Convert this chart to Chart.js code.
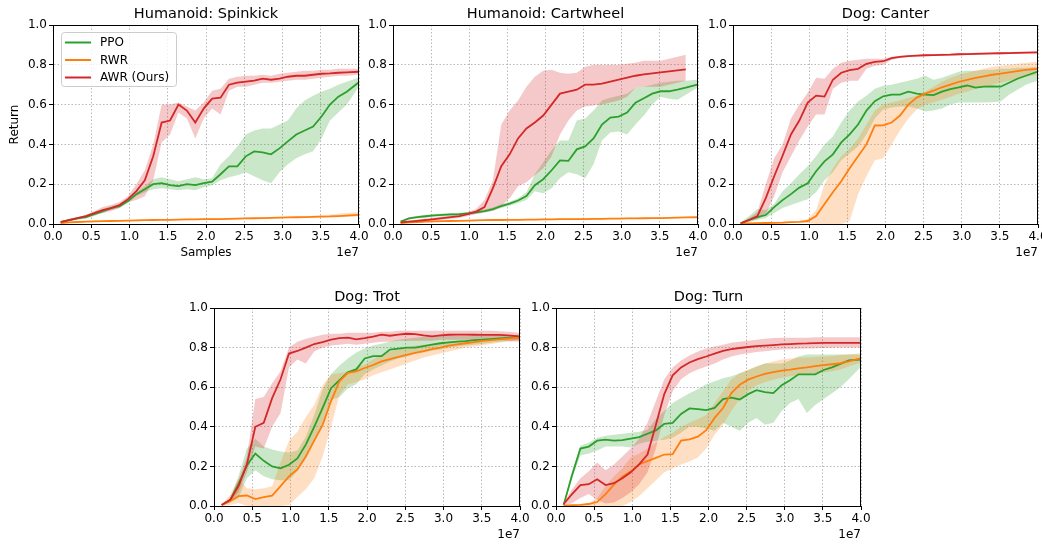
<!DOCTYPE html>
<html>
<head>
<meta charset="utf-8">
<script src="https://cdn.jsdelivr.net/npm/chart.js@4.4.1/dist/chart.umd.min.js"></script>
<style>
  html, body { margin: 0; padding: 0; background: #fff; }
  body { width: 1042px; height: 544px; position: relative; overflow: hidden; }
  canvas { position: absolute; }
</style>
</head>
<body>
<script>
// x positions of the evaluation points, in units of 1e7 samples
const samples = [0.10, 0.21, 0.32, 0.43, 0.54, 0.65, 0.76, 0.87, 0.98, 1.09, 1.20, 1.31, 1.42, 1.53, 1.64, 1.75, 1.86, 1.97,
  2.08, 2.19, 2.30, 2.41, 2.52, 2.63, 2.74, 2.85, 2.96, 3.07, 3.18, 3.29, 3.40, 3.51, 3.62, 3.73, 3.84, 3.99];
const xTickStep = 0.5;
const yTickStep = 0.2;
const methodNames = ["PPO", "RWR", "AWR (Ours)"];

// Humanoid: Spinkick
const spinkickAwr = [0.01, 0.02, 0.03, 0.04, 0.055, 0.07, 0.08, 0.095, 0.125, 0.165, 0.22, 0.34, 0.51, 0.52, 0.60, 0.57, 0.51, 0.58, 0.63, 0.635, 0.70, 0.71, 0.715, 0.72, 0.73, 0.725, 0.73, 0.74, 0.745, 0.745, 0.75, 0.755, 0.757, 0.76, 0.762, 0.765];
const spinkickAwrHi = [0.015, 0.025, 0.035, 0.045, 0.065, 0.085, 0.095, 0.11, 0.14, 0.2, 0.27, 0.4, 0.6, 0.6, 0.61, 0.59, 0.57, 0.61, 0.67, 0.68, 0.73, 0.74, 0.745, 0.745, 0.75, 0.745, 0.755, 0.76, 0.765, 0.77, 0.77, 0.775, 0.775, 0.78, 0.78, 0.78];
const spinkickAwrLo = [0.005, 0.015, 0.025, 0.035, 0.045, 0.055, 0.065, 0.08, 0.11, 0.12, 0.14, 0.22, 0.41, 0.45, 0.56, 0.53, 0.43, 0.53, 0.58, 0.55, 0.67, 0.69, 0.69, 0.70, 0.71, 0.71, 0.715, 0.72, 0.725, 0.725, 0.73, 0.735, 0.74, 0.745, 0.745, 0.75];
const spinkickPpo = [0.01, 0.02, 0.028, 0.035, 0.05, 0.065, 0.08, 0.09, 0.115, 0.15, 0.175, 0.2, 0.205, 0.195, 0.19, 0.2, 0.195, 0.205, 0.213, 0.25, 0.29, 0.29, 0.34, 0.365, 0.36, 0.35, 0.38, 0.415, 0.45, 0.47, 0.49, 0.54, 0.6, 0.64, 0.665, 0.71];
const spinkickPpoHi = [0.015, 0.027, 0.035, 0.043, 0.06, 0.075, 0.09, 0.1, 0.125, 0.16, 0.19, 0.225, 0.235, 0.225, 0.215, 0.225, 0.235, 0.225, 0.23, 0.30, 0.34, 0.39, 0.45, 0.47, 0.48, 0.48, 0.50, 0.52, 0.58, 0.62, 0.645, 0.665, 0.68, 0.70, 0.715, 0.735];
const spinkickPpoLo = [0.005, 0.013, 0.021, 0.027, 0.04, 0.055, 0.07, 0.08, 0.105, 0.14, 0.16, 0.175, 0.18, 0.175, 0.17, 0.175, 0.17, 0.185, 0.195, 0.22, 0.235, 0.245, 0.26, 0.24, 0.22, 0.205, 0.26, 0.3, 0.33, 0.35, 0.365, 0.43, 0.52, 0.56, 0.6, 0.685];
const spinkickRwr = [0.005, 0.008, 0.01, 0.012, 0.013, 0.014, 0.015, 0.016, 0.017, 0.018, 0.019, 0.02, 0.021, 0.021, 0.022, 0.023, 0.023, 0.024, 0.025, 0.025, 0.026, 0.027, 0.028, 0.029, 0.03, 0.031, 0.032, 0.033, 0.034, 0.035, 0.036, 0.037, 0.038, 0.04, 0.042, 0.046];
const spinkickRwrHi = [0.008, 0.011, 0.013, 0.015, 0.016, 0.017, 0.018, 0.019, 0.02, 0.021, 0.022, 0.023, 0.024, 0.024, 0.025, 0.026, 0.026, 0.027, 0.028, 0.028, 0.029, 0.03, 0.031, 0.032, 0.033, 0.034, 0.035, 0.036, 0.037, 0.039, 0.041, 0.044, 0.047, 0.051, 0.055, 0.06];
const spinkickRwrLo = [0.002, 0.005, 0.007, 0.009, 0.01, 0.011, 0.012, 0.013, 0.014, 0.015, 0.016, 0.017, 0.018, 0.018, 0.019, 0.02, 0.02, 0.021, 0.022, 0.022, 0.023, 0.024, 0.025, 0.026, 0.027, 0.028, 0.029, 0.03, 0.031, 0.032, 0.033, 0.034, 0.034, 0.035, 0.036, 0.038];

// Humanoid: Cartwheel
const cartwheelAwr = [0.008, 0.012, 0.016, 0.02, 0.025, 0.03, 0.035, 0.04, 0.05, 0.062, 0.085, 0.18, 0.29, 0.35, 0.43, 0.48, 0.51, 0.545, 0.60, 0.655, 0.665, 0.675, 0.70, 0.70, 0.705, 0.715, 0.725, 0.735, 0.745, 0.752, 0.757, 0.762, 0.767, 0.772, 0.777, null];
const cartwheelAwrHi = [0.012, 0.018, 0.023, 0.028, 0.033, 0.038, 0.043, 0.05, 0.06, 0.075, 0.12, 0.22, 0.50, 0.57, 0.62, 0.69, 0.74, 0.77, 0.775, 0.76, 0.755, 0.76, 0.79, 0.80, 0.80, 0.80, 0.80, 0.805, 0.81, 0.82, 0.82, 0.82, 0.83, 0.84, 0.85, null];
const cartwheelAwrLo = [0.004, 0.006, 0.009, 0.012, 0.017, 0.022, 0.027, 0.03, 0.04, 0.05, 0.06, 0.065, 0.09, 0.13, 0.19, 0.21, 0.245, 0.28, 0.34, 0.45, 0.52, 0.57, 0.59, 0.595, 0.60, 0.61, 0.62, 0.64, 0.685, 0.69, 0.69, 0.69, 0.70, 0.71, 0.72, null];
const cartwheelPpo = [0.012, 0.028, 0.035, 0.039, 0.043, 0.046, 0.048, 0.05, 0.053, 0.058, 0.065, 0.075, 0.09, 0.102, 0.118, 0.14, 0.195, 0.225, 0.27, 0.32, 0.317, 0.375, 0.39, 0.43, 0.5, 0.535, 0.54, 0.56, 0.61, 0.632, 0.655, 0.667, 0.667, 0.675, 0.685, 0.70];
const cartwheelPpoHi = [0.016, 0.034, 0.042, 0.046, 0.05, 0.053, 0.055, 0.057, 0.06, 0.066, 0.073, 0.083, 0.1, 0.112, 0.13, 0.16, 0.25, 0.31, 0.37, 0.42, 0.42, 0.52, 0.53, 0.57, 0.62, 0.635, 0.645, 0.655, 0.685, 0.69, 0.70, 0.71, 0.715, 0.72, 0.72, 0.725];
const cartwheelPpoLo = [0.008, 0.022, 0.028, 0.032, 0.036, 0.039, 0.041, 0.043, 0.046, 0.05, 0.057, 0.067, 0.08, 0.092, 0.106, 0.12, 0.165, 0.155, 0.18, 0.23, 0.26, 0.25, 0.23, 0.30, 0.42, 0.46, 0.465, 0.45, 0.50, 0.545, 0.60, 0.64, 0.63, 0.625, 0.65, 0.685];
const cartwheelRwr = [0.005, 0.008, 0.01, 0.012, 0.013, 0.014, 0.015, 0.016, 0.017, 0.018, 0.019, 0.02, 0.02, 0.021, 0.021, 0.022, 0.022, 0.023, 0.023, 0.024, 0.024, 0.025, 0.025, 0.026, 0.026, 0.027, 0.027, 0.028, 0.028, 0.029, 0.03, 0.03, 0.031, 0.032, 0.033, 0.034];
const cartwheelRwrHi = [0.008, 0.011, 0.013, 0.015, 0.016, 0.017, 0.018, 0.019, 0.02, 0.021, 0.022, 0.023, 0.023, 0.024, 0.024, 0.025, 0.025, 0.026, 0.026, 0.027, 0.027, 0.028, 0.028, 0.029, 0.029, 0.03, 0.03, 0.031, 0.031, 0.032, 0.033, 0.033, 0.034, 0.035, 0.036, 0.037];
const cartwheelRwrLo = [0.002, 0.005, 0.007, 0.009, 0.01, 0.011, 0.012, 0.013, 0.014, 0.015, 0.016, 0.017, 0.017, 0.018, 0.018, 0.019, 0.019, 0.02, 0.02, 0.021, 0.021, 0.022, 0.022, 0.023, 0.023, 0.024, 0.024, 0.025, 0.025, 0.026, 0.027, 0.027, 0.028, 0.029, 0.03, 0.031];

// Dog: Canter
const canterAwr = [0.003, 0.02, 0.04, 0.13, 0.24, 0.343, 0.45, 0.52, 0.61, 0.645, 0.64, 0.725, 0.76, 0.773, 0.78, 0.805, 0.815, 0.818, 0.834, 0.84, 0.844, 0.846, 0.848, 0.849, 0.85, 0.851, 0.853, 0.854, 0.855, 0.856, 0.857, 0.858, 0.859, 0.86, 0.861, 0.862];
const canterAwrHi = [0.005, 0.03, 0.06, 0.2, 0.33, 0.40, 0.53, 0.60, 0.66, 0.735, 0.73, 0.78, 0.81, 0.82, 0.825, 0.83, 0.83, 0.83, 0.84, 0.845, 0.849, 0.851, 0.853, 0.854, 0.855, 0.856, 0.858, 0.859, 0.86, 0.861, 0.862, 0.863, 0.864, 0.865, 0.866, 0.867];
const canterAwrLo = [0.0, 0.012, 0.025, 0.05, 0.14, 0.26, 0.34, 0.42, 0.49, 0.55, 0.55, 0.68, 0.71, 0.72, 0.72, 0.78, 0.795, 0.80, 0.825, 0.835, 0.839, 0.841, 0.843, 0.844, 0.845, 0.846, 0.848, 0.849, 0.85, 0.851, 0.852, 0.853, 0.854, 0.855, 0.856, 0.857];
const canterPpo = [0.003, 0.02, 0.035, 0.045, 0.085, 0.12, 0.15, 0.183, 0.205, 0.265, 0.315, 0.35, 0.41, 0.45, 0.5, 0.57, 0.617, 0.642, 0.65, 0.65, 0.665, 0.655, 0.65, 0.648, 0.665, 0.678, 0.687, 0.696, 0.685, 0.69, 0.692, 0.69, 0.71, 0.73, 0.745, 0.765];
const canterPpoHi = [0.008, 0.04, 0.075, 0.07, 0.10, 0.165, 0.205, 0.25, 0.29, 0.34, 0.40, 0.44, 0.51, 0.57, 0.615, 0.645, 0.68, 0.695, 0.70, 0.71, 0.72, 0.73, 0.745, 0.725, 0.735, 0.75, 0.765, 0.77, 0.77, 0.775, 0.775, 0.78, 0.78, 0.785, 0.785, 0.79];
const canterPpoLo = [0.0, 0.01, 0.02, 0.03, 0.055, 0.08, 0.095, 0.11, 0.125, 0.16, 0.22, 0.26, 0.32, 0.355, 0.39, 0.45, 0.53, 0.575, 0.585, 0.59, 0.59, 0.58, 0.565, 0.57, 0.58, 0.60, 0.61, 0.61, 0.61, 0.61, 0.612, 0.615, 0.65, 0.675, 0.70, 0.72];
const canterRwr = [0.002, 0.003, 0.004, 0.005, 0.006, 0.007, 0.009, 0.011, 0.015, 0.04, 0.1, 0.16, 0.215, 0.28, 0.34, 0.40, 0.495, 0.496, 0.51, 0.545, 0.60, 0.635, 0.655, 0.67, 0.687, 0.70, 0.714, 0.724, 0.734, 0.742, 0.75, 0.756, 0.762, 0.768, 0.774, 0.78];
const canterRwrHi = [0.006, 0.007, 0.008, 0.009, 0.01, 0.011, 0.013, 0.015, 0.025, 0.07, 0.2, 0.28, 0.34, 0.38, 0.43, 0.50, 0.57, 0.60, 0.61, 0.62, 0.635, 0.645, 0.665, 0.69, 0.715, 0.735, 0.75, 0.76, 0.77, 0.78, 0.79, 0.795, 0.80, 0.805, 0.81, 0.815];
const canterRwrLo = [0.0, 0.0, 0.0, 0.001, 0.002, 0.003, 0.005, 0.007, 0.005, 0.0, 0.0, 0.0, 0.0, 0.015, 0.15, 0.24, 0.32, 0.33, 0.40, 0.47, 0.53, 0.575, 0.60, 0.61, 0.625, 0.64, 0.655, 0.665, 0.68, 0.69, 0.70, 0.71, 0.72, 0.73, 0.74, 0.75];

// Dog: Trot
const trotAwr = [0.005, 0.03, 0.10, 0.21, 0.40, 0.42, 0.545, 0.64, 0.77, 0.783, 0.80, 0.818, 0.828, 0.84, 0.848, 0.85, 0.842, 0.848, 0.855, 0.865, 0.86, 0.865, 0.87, 0.868, 0.862, 0.857, 0.862, 0.865, 0.866, 0.866, 0.865, 0.864, 0.864, 0.864, 0.862, 0.857];
const trotAwrHi = [0.008, 0.04, 0.13, 0.25, 0.54, 0.55, 0.62, 0.68, 0.80, 0.83, 0.845, 0.855, 0.865, 0.87, 0.87, 0.875, 0.875, 0.875, 0.875, 0.88, 0.88, 0.885, 0.885, 0.885, 0.885, 0.885, 0.885, 0.885, 0.885, 0.885, 0.885, 0.885, 0.885, 0.882, 0.88, 0.875];
const trotAwrLo = [0.002, 0.02, 0.07, 0.17, 0.30, 0.29, 0.40, 0.47, 0.70, 0.74, 0.72, 0.78, 0.80, 0.81, 0.815, 0.82, 0.815, 0.82, 0.825, 0.83, 0.83, 0.835, 0.835, 0.835, 0.835, 0.835, 0.84, 0.84, 0.84, 0.84, 0.84, 0.84, 0.84, 0.838, 0.835, 0.83];
const trotPpo = [0.005, 0.03, 0.11, 0.205, 0.265, 0.228, 0.20, 0.19, 0.208, 0.24, 0.31, 0.40, 0.495, 0.595, 0.635, 0.675, 0.69, 0.745, 0.757, 0.757, 0.79, 0.795, 0.80, 0.80, 0.808, 0.815, 0.822, 0.826, 0.83, 0.833, 0.838, 0.84, 0.843, 0.846, 0.849, 0.852];
const trotPpoHi = [0.008, 0.035, 0.15, 0.29, 0.34, 0.30, 0.285, 0.275, 0.27, 0.28, 0.35, 0.46, 0.59, 0.665, 0.71, 0.745, 0.775, 0.795, 0.81, 0.82, 0.83, 0.84, 0.845, 0.85, 0.855, 0.857, 0.858, 0.86, 0.86, 0.86, 0.86, 0.86, 0.862, 0.862, 0.863, 0.865];
const trotPpoLo = [0.002, 0.015, 0.04, 0.14, 0.18, 0.15, 0.135, 0.13, 0.13, 0.175, 0.24, 0.33, 0.42, 0.535, 0.55, 0.595, 0.615, 0.665, 0.69, 0.71, 0.73, 0.745, 0.755, 0.77, 0.775, 0.785, 0.79, 0.80, 0.805, 0.81, 0.815, 0.82, 0.825, 0.83, 0.835, 0.84];
const trotRwr = [0.005, 0.025, 0.05, 0.053, 0.035, 0.045, 0.052, 0.10, 0.15, 0.185, 0.25, 0.33, 0.41, 0.53, 0.63, 0.672, 0.68, 0.697, 0.712, 0.73, 0.742, 0.753, 0.763, 0.773, 0.782, 0.792, 0.80, 0.81, 0.816, 0.822, 0.828, 0.834, 0.838, 0.842, 0.845, 0.85];
const trotRwrHi = [0.01, 0.055, 0.14, 0.09, 0.085, 0.09, 0.10, 0.22, 0.33, 0.375, 0.45, 0.51, 0.61, 0.665, 0.67, 0.68, 0.70, 0.715, 0.74, 0.765, 0.78, 0.79, 0.80, 0.81, 0.815, 0.82, 0.825, 0.83, 0.835, 0.838, 0.842, 0.845, 0.848, 0.85, 0.853, 0.857];
const trotRwrLo = [0.0, 0.005, 0.015, 0.0, 0.0, 0.0, 0.0, 0.0, 0.005, 0.045, 0.085, 0.14, 0.25, 0.40, 0.56, 0.615, 0.625, 0.64, 0.66, 0.675, 0.69, 0.705, 0.72, 0.735, 0.75, 0.76, 0.77, 0.78, 0.79, 0.80, 0.806, 0.812, 0.818, 0.825, 0.83, 0.835];

// Dog: Turn
const turnAwr = [0.01, 0.06, 0.105, 0.11, 0.135, 0.106, 0.115, 0.14, 0.17, 0.21, 0.26, 0.41, 0.565, 0.66, 0.70, 0.725, 0.742, 0.755, 0.77, 0.783, 0.792, 0.798, 0.803, 0.807, 0.81, 0.813, 0.816, 0.818, 0.82, 0.821, 0.823, 0.824, 0.824, 0.824, 0.824, 0.824];
const turnAwrHi = [0.015, 0.085, 0.14, 0.175, 0.22, 0.18, 0.21, 0.25, 0.29, 0.34, 0.42, 0.53, 0.64, 0.70, 0.735, 0.76, 0.78, 0.795, 0.805, 0.815, 0.825, 0.83, 0.835, 0.84, 0.845, 0.848, 0.85, 0.85, 0.85, 0.85, 0.852, 0.852, 0.852, 0.852, 0.852, 0.852];
const turnAwrLo = [0.0, 0.015, 0.04, 0.06, 0.03, 0.012, 0.018, 0.04, 0.07, 0.11, 0.17, 0.29, 0.46, 0.58, 0.64, 0.67, 0.69, 0.705, 0.72, 0.74, 0.755, 0.765, 0.772, 0.778, 0.782, 0.786, 0.79, 0.792, 0.794, 0.796, 0.797, 0.798, 0.799, 0.80, 0.80, 0.80];
const turnPpo = [0.005, 0.155, 0.29, 0.30, 0.33, 0.335, 0.33, 0.333, 0.34, 0.348, 0.365, 0.382, 0.415, 0.42, 0.465, 0.493, 0.489, 0.484, 0.495, 0.54, 0.547, 0.538, 0.565, 0.585, 0.575, 0.57, 0.61, 0.635, 0.665, 0.665, 0.665, 0.687, 0.70, 0.718, 0.735, 0.74];
const turnPpoHi = [0.01, 0.175, 0.305, 0.32, 0.345, 0.355, 0.36, 0.365, 0.37, 0.375, 0.385, 0.44, 0.48, 0.52, 0.545, 0.57, 0.59, 0.615, 0.63, 0.645, 0.655, 0.67, 0.685, 0.705, 0.72, 0.72, 0.72, 0.735, 0.755, 0.765, 0.765, 0.765, 0.765, 0.765, 0.765, 0.765];
const turnPpoLo = [0.0, 0.135, 0.255, 0.265, 0.28, 0.30, 0.30, 0.30, 0.295, 0.315, 0.325, 0.33, 0.335, 0.345, 0.37, 0.40, 0.40, 0.39, 0.38, 0.42, 0.40, 0.38, 0.42, 0.445, 0.41, 0.42, 0.48, 0.52, 0.54, 0.47, 0.51, 0.54, 0.57, 0.60, 0.64, 0.70];
const turnRwr = [0.002, 0.004, 0.006, 0.01, 0.02, 0.06, 0.108, 0.148, 0.175, 0.21, 0.227, 0.243, 0.26, 0.262, 0.33, 0.337, 0.35, 0.383, 0.445, 0.495, 0.57, 0.612, 0.638, 0.654, 0.667, 0.676, 0.684, 0.689, 0.695, 0.70, 0.706, 0.711, 0.716, 0.721, 0.73, 0.745];
const turnRwrHi = [0.004, 0.006, 0.009, 0.015, 0.04, 0.10, 0.15, 0.19, 0.245, 0.265, 0.29, 0.32, 0.35, 0.37, 0.40, 0.42, 0.44, 0.46, 0.52, 0.58, 0.64, 0.67, 0.69, 0.705, 0.72, 0.73, 0.74, 0.745, 0.75, 0.75, 0.752, 0.755, 0.758, 0.762, 0.766, 0.77];
const turnRwrLo = [0.0, 0.0, 0.0, 0.0, 0.0, 0.0, 0.0, 0.0, 0.02, 0.05, 0.09, 0.13, 0.17, 0.19, 0.21, 0.225, 0.245, 0.29, 0.36, 0.41, 0.48, 0.54, 0.58, 0.61, 0.625, 0.638, 0.648, 0.655, 0.66, 0.665, 0.67, 0.674, 0.68, 0.69, 0.705, 0.723];

const FONT = "DejaVu Sans";
const GREEN = "#2ca02c";
const ORANGE = "#ff7f0e";
const RED = "#d62728";

const panels = [
  { title: "Humanoid: Spinkick", left: 53, top: 25, w: 306, h: 199, legend: true, xLabel: true,
    ppo: [spinkickPpo, spinkickPpoLo, spinkickPpoHi], rwr: [spinkickRwr, spinkickRwrLo, spinkickRwrHi], awr: [spinkickAwr, spinkickAwrLo, spinkickAwrHi] },
  { title: "Humanoid: Cartwheel", left: 393, top: 25, w: 305, h: 199,
    ppo: [cartwheelPpo, cartwheelPpoLo, cartwheelPpoHi], rwr: [cartwheelRwr, cartwheelRwrLo, cartwheelRwrHi], awr: [cartwheelAwr, cartwheelAwrLo, cartwheelAwrHi] },
  { title: "Dog: Canter", left: 733, top: 25, w: 305, h: 199,
    ppo: [canterPpo, canterPpoLo, canterPpoHi], rwr: [canterRwr, canterRwrLo, canterRwrHi], awr: [canterAwr, canterAwrLo, canterAwrHi] },
  { title: "Dog: Trot", left: 214, top: 308, w: 306, h: 198,
    ppo: [trotPpo, trotPpoLo, trotPpoHi], rwr: [trotRwr, trotRwrLo, trotRwrHi], awr: [trotAwr, trotAwrLo, trotAwrHi] },
  { title: "Dog: Turn", left: 556, top: 308, w: 305, h: 198,
    ppo: [turnPpo, turnPpoLo, turnPpoHi], rwr: [turnRwr, turnRwrLo, turnRwrHi], awr: [turnAwr, turnAwrLo, turnAwrHi] },
];

const Y_AXIS_W = 53, X_AXIS_H = 40, PAD_TOP = 25, PAD_RIGHT = 14;

function series(ys) {
  return ys.map((y, i) => ({ x: samples[i], y: y }));
}

function buildDatasets(p) {
  // AWR first so it is drawn on top (chart.js paints index 0 last)
  const methods = [
    { d: p.awr, color: RED, band: "rgba(214,39,40,0.25)" },
    { d: p.rwr, color: ORANGE, band: "rgba(255,127,14,0.25)" },
    { d: p.ppo, color: GREEN, band: "rgba(44,160,44,0.25)" },
  ];
  const sets = methods.map((m) => ({
    data: series(m.d[0]), borderColor: m.color, borderWidth: 1.8,
    pointRadius: 0, fill: false, tension: 0,
  }));
  methods.forEach((m) => {
    sets.push({ data: series(m.d[2]), borderWidth: 0, pointRadius: 0, backgroundColor: m.band, fill: "+1" });
    sets.push({ data: series(m.d[1]), borderWidth: 0, pointRadius: 0, fill: false });
  });
  return sets;
}

function decor(p) {
  return {
    id: "decor",
    afterDraw(chart) {
      const ctx = chart.ctx;
      const a = chart.chartArea;
      ctx.save();
      ctx.strokeStyle = "#000";
      ctx.lineWidth = 1;
      ctx.strokeRect(Math.round(a.left) + 0.5, Math.round(a.top) + 0.5, Math.round(a.right - a.left) - 1, Math.round(a.bottom - a.top));

      ctx.fillStyle = "#000";
      ctx.textAlign = "center";
      ctx.textBaseline = "middle";
      ctx.font = "14.5px " + FONT;
      ctx.fillText(p.title, (a.left + a.right) / 2, a.top - 11);

      ctx.font = "12px " + FONT;
      ctx.textAlign = "right";
      ctx.fillText("1e7", a.right, a.bottom + 29);

      if (p.xLabel) {
        ctx.textAlign = "center";
        ctx.fillText("Samples", (a.left + a.right) / 2, a.bottom + 29);
        ctx.save();
        ctx.translate(15, (a.top + a.bottom) / 2);
        ctx.rotate(-Math.PI / 2);
        ctx.fillText("Return", 0, 0);
        ctx.restore();
      }

      if (p.legend) {
        const bx = a.left + 8, by = a.top + 7, bw = 115, bh = 54;
        ctx.beginPath();
        ctx.roundRect(bx + 0.5, by + 0.5, bw, bh, 3);
        ctx.fillStyle = "rgba(255,255,255,0.8)";
        ctx.fill();
        ctx.strokeStyle = "#cccccc";
        ctx.stroke();
        const colors = [GREEN, ORANGE, RED];
        methodNames.forEach((name, i) => {
          const y = by + 10.5 + i * 17.5;
          ctx.strokeStyle = colors[i];
          ctx.lineWidth = 2;
          ctx.beginPath();
          ctx.moveTo(bx + 4, y);
          ctx.lineTo(bx + 30, y);
          ctx.stroke();
          ctx.fillStyle = "#000";
          ctx.textAlign = "left";
          ctx.fillText(name, bx + 39, y + 0.5);
        });
      }
      ctx.restore();
    },
  };
}

function axisStyle() {
  return {
    grid: { color: "#b0b0b0", lineWidth: 0.9, tickLength: 4, tickColor: "#000", tickWidth: 1 },
    border: { display: true, color: "#000", width: 1, dash: [1.5, 2] },
  };
}

function renderPanel(p) {
  const canvas = document.createElement("canvas");
  const cw = Y_AXIS_W + p.w + PAD_RIGHT;
  const ch = PAD_TOP + p.h + X_AXIS_H;
  canvas.width = cw;
  canvas.height = ch;
  canvas.style.width = cw + "px";
  canvas.style.height = ch + "px";
  canvas.style.left = p.left - Y_AXIS_W + "px";
  canvas.style.top = p.top - PAD_TOP + "px";
  document.body.appendChild(canvas);

  new Chart(canvas, {
    type: "line",
    data: { datasets: buildDatasets(p) },
    options: {
      responsive: false,
      animation: false,
      layout: { padding: { top: PAD_TOP, right: PAD_RIGHT, left: 0, bottom: 0 } },
      plugins: { legend: { display: false }, tooltip: { enabled: false }, title: { display: false } },
      scales: {
        x: {
          type: "linear", min: 0, max: 4,
          ...axisStyle(),
          ticks: { stepSize: xTickStep, autoSkip: false, maxRotation: 0, padding: 2, color: "#000",
            font: { family: FONT, size: 12 }, callback: (v) => v.toFixed(1) },
          afterFit: (s) => { s.height = X_AXIS_H; },
        },
        y: {
          min: 0, max: 1,
          ...axisStyle(),
          ticks: { stepSize: yTickStep, padding: 2, color: "#000",
            font: { family: FONT, size: 12 }, callback: (v) => v.toFixed(1) },
          afterFit: (s) => { s.width = Y_AXIS_W; },
        },
      },
    },
    plugins: [decor(p)],
  });
}

panels.forEach(renderPanel);
</script>
</body>
</html>
